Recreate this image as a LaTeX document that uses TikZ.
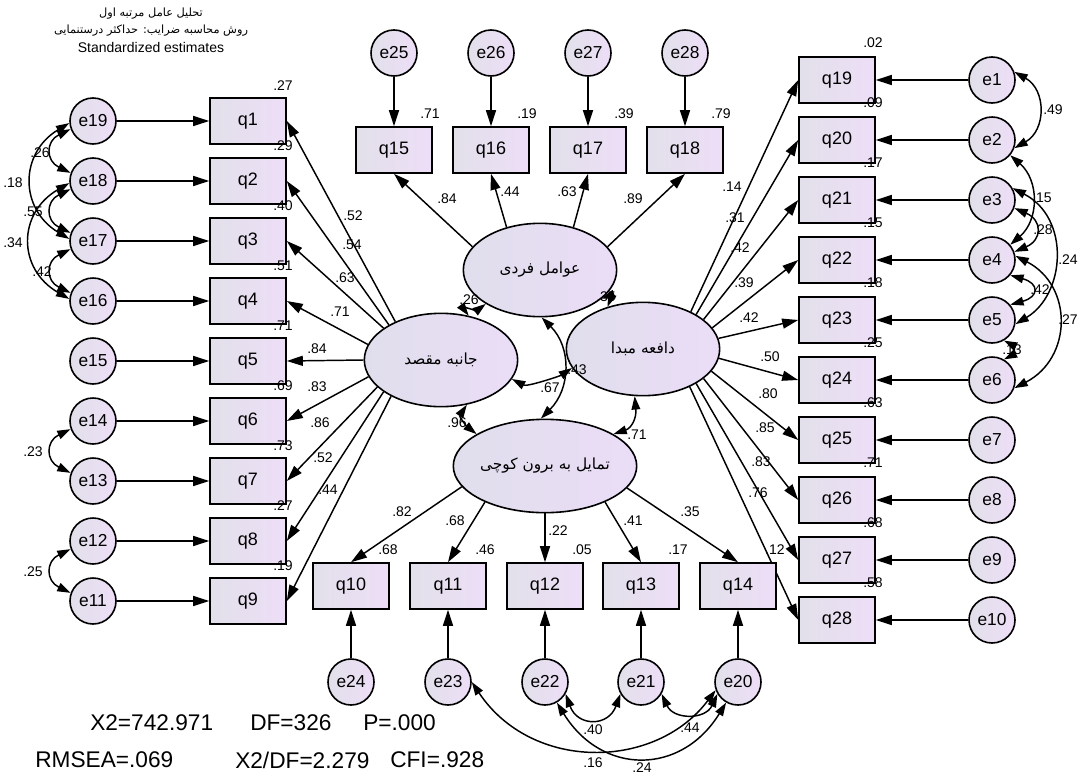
\documentclass[tikz,border=0pt]{standalone}
\usepackage{fontspec}
\setmainfont{Liberation Sans}
\newfontfamily\arabicfont[Script=Arabic]{DejaVu Sans}
\TeXXeTstate=1
\usetikzlibrary{shapes.geometric,arrows.meta}
\definecolor{nodeL}{RGB}{226,224,234}
\definecolor{nodeR}{RGB}{237,222,247}
\definecolor{latL}{RGB}{224,222,236}
\definecolor{latR}{RGB}{235,221,247}
\tikzset{
  obs/.style={draw, line width=1.2pt, rectangle, minimum width=57pt, minimum height=34.5pt, inner sep=0pt, left color=nodeL, right color=nodeR, font=\fontsize{13.5}{15}\selectfont},
  err/.style={draw, line width=1.2pt, circle, minimum size=34.5pt, inner sep=0pt, left color=nodeL, right color=nodeR, font=\fontsize{13}{15}\selectfont},
  lat/.style={draw, line width=1.2pt, ellipse, minimum width=115pt, minimum height=70pt, inner sep=0pt, left color=latL, right color=latR, font=\arabicfont\fontsize{11.5}{13}\selectfont},
  load/.style={line width=1.1pt, -{Triangle[length=12pt,width=7.5pt]}},
  cov/.style={line width=1.1pt, {Triangle[length=10pt,width=6.5pt]}-{Triangle[length=10pt,width=6.5pt]}},
  lbl/.style={font=\fontsize{10.5}{12}\selectfont, inner sep=0pt},
  fitstat/.style={font=\fontsize{17}{20}\selectfont, inner sep=0pt, anchor=west},
  headar/.style={font=\arabicfont\fontsize{8.5}{10}\selectfont, inner sep=0pt},
}
\begin{document}
\begin{tikzpicture}[x=0.75pt,y=-0.75pt]
\fill[white] (0,0) rectangle (1078,782);
\useasboundingbox (0,0) rectangle (1078,782);

% header
\node[headar] (h1) at (151,14) {\beginR تحلیل عامل مرتبه اول\endR};
\node[headar] (h2) at (151,31) {\beginR روش محاسبه ضرایب: حداکثر درستنمایی\endR};
\node[font=\fontsize{10.5}{12}\selectfont, inner sep=0pt] (h3) at (151,47) {Standardized estimates};

% latent variables
\node[lat] (T) at (540,270) {\beginR عوامل فردی\endR};
\node[lat] (L) at (441,360) {\beginR جانبه مقصد\endR};
\node[lat] (R) at (643,349) {\beginR دافعه مبدا\endR};
\node[lat] (B) at (545,466) {\beginR تمایل به برون کوچی\endR};

% left block
\foreach \i/\e/\ld/\lx/\ly/\rr/\ang in {
  1/19/.52/353/216/.27/140,
  2/18/.54/352/245/.29/146,
  3/17/.63/345/278/.40/151,
  4/16/.71/340/312/.51/168,
  5/15/.84/317/349/.71/180,
  6/14/.83/317/387/.69/193,
  7/13/.86/320/423/.73/203,
  8/12/.52/323/458/.27/209,
  9/11/.44/328/490/.19/216} {
  \pgfmathsetmacro\yy{121+60*(\i-1)}
  \node[obs] (q\i) at (248,\yy) {q\i};
  \node[err] (e\e) at (93,\yy) {e\e};
  \draw[load] (e\e) -- (q\i);
  \draw[load] (L.\ang) -- (q\i.east);
  \node[lbl] at (\lx,\ly) {\ld};
  \node[lbl] at (283,\yy-35) {\rr};
}

% top block
\foreach \q/\e/\xx/\ld/\lx/\ly/\rr/\ang in {
  15/25/394/.84/447/199/.71/161,
  16/26/491/.44/510/192/.19/128,
  17/27/588/.63/567/192/.39/52,
  18/28/685/.89/633/199/.79/19} {
  \node[obs] (q\q) at (\xx,150) {q\q};
  \node[err] (e\e) at (\xx,53) {e\e};
  \draw[load] (e\e.south) -- (q\q.north);
  \draw[load] (T.\ang) -- (q\q.south);
  \node[lbl] at (\lx,\ly) {\ld};
  \node[lbl] at (\xx+36,114) {\rr};
}

% right block
\foreach \k/\q/\e/\ld/\lx/\ly/\rr/\ang in {
  0/19/1/.14/732/187/.02/38.5,
  1/20/2/.31/735/218/.09/33,
  2/21/3/.42/740/248/.17/26.6,
  3/22/4/.39/744/283/.15/17.4,
  4/23/5/.42/749/318/.18/8,
  5/24/6/.50/770/357/.25/353.5,
  6/25/7/.80/768/394/.63/342,
  7/26/8/.85/765/428/.71/334,
  8/27/9/.83/761/462/.68/327,
  9/28/10/.76/758/493/.58/321.5} {
  \pgfmathsetmacro\yy{80+60*\k}
  \node[obs] (q\q) at (837,\yy) {q\q};
  \node[err] (e\e) at (992,\yy) {e\e};
  \draw[load] (e\e) -- (q\q);
  \draw[load] (R.\ang) -- (q\q.west);
  \node[lbl] at (\lx,\ly) {\ld};
  \node[lbl] at (873,\yy-37) {\rr};
}

% bottom block
\foreach \q/\e/\xx/\ld/\lx/\ly/\rr/\ang in {
  10/24/351/.82/402/512/.68/194.6,
  11/23/448/.68/455/521/.46/211.7,
  12/22/545/.22/558/531/.05/270,
  13/21/641/.41/633/521/.17/329,
  14/20/738/.35/690/512/.12/345} {
  \node[obs] (q\q) at (\xx,586) {q\q};
  \node[err] (e\e) at (\xx,682) {e\e};
  \draw[load] (e\e.north) -- (q\q.south);
  \draw[load] (B.\ang) -- (q\q.north);
  \node[lbl] at (\lx,\ly) {\ld};
  \node[lbl] at (\xx+37,550) {\rr};
}

% left covariances
\draw[cov] (e19.200) .. controls +(-25,12) and +(-25,-12) .. (e18.160);
\draw[cov] (e19.185) .. controls +(-50,30) and +(-50,-30) .. (e17.175);
\draw[cov] (e18.200) .. controls +(-25,12) and +(-25,-12) .. (e17.160);
\draw[cov] (e18.185) .. controls +(-52,30) and +(-52,-30) .. (e16.175);
\draw[cov] (e17.200) .. controls +(-25,12) and +(-25,-12) .. (e16.160);
\draw[cov] (e14.200) .. controls +(-25,12) and +(-25,-12) .. (e13.160);
\draw[cov] (e12.200) .. controls +(-25,12) and +(-25,-12) .. (e11.160);
\node[lbl] at (40,153) {.26};
\node[lbl] at (13,183) {.18};
\node[lbl] at (33,212) {.55};
\node[lbl] at (13,243) {.34};
\node[lbl] at (42,272) {.42};
\node[lbl] at (33,452) {.23};
\node[lbl] at (33,572) {.25};

% right covariances
\draw[cov] (e1.20) .. controls +(32,18) and +(32,-18) .. (e2.-20);
\draw[cov] (e2.-40) .. controls +(29,25) and +(29,-25) .. (e4.40);
\draw[cov] (e3.-20) .. controls +(28,12) and +(28,-12) .. (e4.20);
\draw[cov] (e3.30) .. controls +(58,30) and +(50,-30) .. (e5.-10);
\draw[cov] (e4.-40) .. controls +(29,8) and +(29,-8) .. (e5.40);
\draw[cov] (e4.10) .. controls +(58,30) and +(58,-30) .. (e6.-20);
\draw[cov] (e5.-60) .. controls +(10,5) and +(10,-5) .. (e6.60);
\node[lbl] at (1053,110) {.49};
\node[lbl] at (1042,198) {.15};
\node[lbl] at (1043,230) {.28};
\node[lbl] at (1068,260) {.24};
\node[lbl] at (1040,290) {.42};
\node[lbl] at (1068,320) {.27};
\node[lbl] at (1012,350) {.13};

% bottom covariances
\draw[cov] (e23.0) .. controls +(60,90) and +(-60,80) .. (e20.200);
\draw[cov] (e22.-60) .. controls +(45,73) and +(-45,73) .. (e20.-120);
\draw[cov] (e22.-30) .. controls +(12,33) and +(-12,33) .. (e21.-150);
\draw[cov] (e21.-30) .. controls +(12,26) and +(-12,26) .. (e20.-150);
\node[lbl] at (593,763) {.16};
\node[lbl] at (642,768) {.24};
\node[lbl] at (593,730) {.40};
\node[lbl] at (690,728) {.44};

% latent covariances
\draw[cov] (L.58) .. controls +(-6,-8) and +(-8,6) .. (T.212);
\draw[cov] (T.-25) .. controls +(8,-3) and +(3,-8) .. (R.130);
\draw[cov] (T.-88) .. controls +(30,30) and +(30,-30) .. (B.95);
\draw[cov] (L.-15) .. controls +(15,8) and +(-12,8) .. (R.195);
\draw[cov] (L.-60) .. controls +(-8,12) and +(-10,-8) .. (B.155);
\draw[cov] (R.-100) .. controls +(2,22) and +(18,-6) .. (B.25);
\node[lbl] at (469,300) {.26};
\node[lbl] at (606,297) {.35};
\node[lbl] at (550,388) {.67};
\node[lbl] at (577,370) {.43};
\node[lbl] at (457,423) {.96};
\node[lbl] at (637,435) {.71};

% fit statistics
\node[fitstat] (f1) at (90,723) {X2=742.971};
\node[fitstat] (f2) at (250,723) {DF=326};
\node[fitstat] (f3) at (363,723) {P=.000};
\node[fitstat] (f4) at (35,760) {RMSEA=.069};
\node[fitstat] (f5) at (235,760) {X2/DF=2.279};
\node[fitstat] (f6) at (390,760) {CFI=.928};
\end{tikzpicture}
\end{document}
